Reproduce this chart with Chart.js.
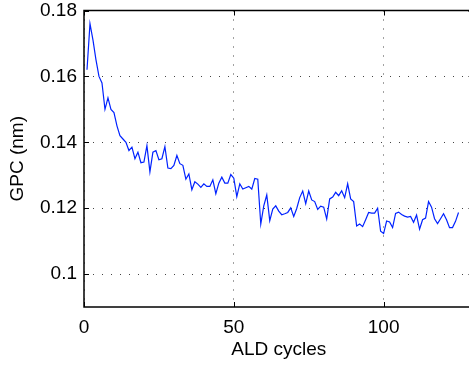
<!DOCTYPE html>
<html>
<head>
<meta charset="utf-8">
<script src="https://cdn.jsdelivr.net/npm/chart.js@4/dist/chart.umd.min.js"></script>
<style>
html,body{margin:0;padding:0;background:#fff;overflow:hidden;width:469px;height:365px;}
canvas{display:block;}
</style>
</head>
<body>
<canvas id="c" width="480" height="365"></canvas>
<script>
// ALD cycle number 1..125
const cycles = [
  1,2,3,4,5,6,7,8,9,10,11,12,13,14,15,16,17,18,19,20,
  21,22,23,24,25,26,27,28,29,30,31,32,33,34,35,36,37,38,39,40,
  41,42,43,44,45,46,47,48,49,50,51,52,53,54,55,56,57,58,59,60,
  61,62,63,64,65,66,67,68,69,70,71,72,73,74,75,76,77,78,79,80,
  81,82,83,84,85,86,87,88,89,90,91,92,93,94,95,96,97,98,99,100,
  101,102,103,104,105,106,107,108,109,110,111,112,113,114,115,116,117,118,119,120,
  121,122,123,124,125
];
// growth per cycle (nm)
const gpc = [
  0.162,0.176,0.171,0.165,0.160,0.158,0.150,0.1535,0.150,0.149,
  0.145,0.142,0.141,0.140,0.1375,0.1385,0.135,0.137,0.1338,0.134,
  0.139,0.131,0.137,0.1375,0.1347,0.135,0.1387,0.1322,0.132,0.133,
  0.136,0.1335,0.133,0.1288,0.1304,0.1256,0.128,0.1273,0.1263,0.1274,
  0.1266,0.1266,0.1286,0.1244,0.1276,0.1294,0.1276,0.1276,0.1302,0.1291,
  0.1235,0.1274,0.1258,0.1262,0.1266,0.1258,0.129,0.1288,0.1152,0.1207,
  0.124,0.1162,0.1197,0.1207,0.1191,0.118,0.1183,0.1187,0.1201,0.1175,
  0.1199,0.1232,0.1252,0.1214,0.1252,0.1225,0.122,0.1196,0.1206,0.1203,
  0.1167,0.1228,0.1234,0.1248,0.1238,0.1253,0.1232,0.1274,0.1228,0.122,
  0.1146,0.1152,0.1144,0.1165,0.1187,0.1185,0.1185,0.12,0.113,0.1123,
  0.1161,0.1158,0.1141,0.1184,0.1188,0.1181,0.1176,0.1173,0.1175,0.1157,
  0.1179,0.1136,0.1165,0.117,0.122,0.1203,0.1168,0.1153,0.1168,0.1183,
  0.1165,0.1141,0.1141,0.116,0.1187
];
const xTicks = [0, 50, 100];
const xTickLabels = ['0', '50', '100'];
const yTicks = [0.1, 0.12, 0.14, 0.16, 0.18];
const yTickLabels = ['0.1', '0.12', '0.14', '0.16', '0.18'];
const xTitle = 'ALD cycles';
const yTitle = 'GPC (nm)';

const FONT = "'Liberation Sans', Arial, Helvetica, sans-serif";

const frame = {
  id: 'frame',
  afterDraw(chart) {
    const {ctx, chartArea: a, scales: {x, y}} = chart;
    ctx.save();
    ctx.strokeStyle = '#000';
    ctx.lineWidth = 1;
    ctx.beginPath();
    x.ticks.forEach(t => {
      const px = Math.round(x.getPixelForValue(t.value)) + 0.5;
      ctx.moveTo(px, a.bottom); ctx.lineTo(px, a.bottom - 5);
      ctx.moveTo(px, a.top); ctx.lineTo(px, a.top + 5);
    });
    y.ticks.forEach(t => {
      const py = Math.round(y.getPixelForValue(t.value)) + 0.5;
      ctx.moveTo(a.left, py); ctx.lineTo(a.left + 5, py);
      ctx.moveTo(a.right, py); ctx.lineTo(a.right - 5, py);
    });
    ctx.stroke();
    ctx.lineWidth = 1.5;
    ctx.strokeRect(a.left, a.top, a.right - a.left, a.bottom - a.top);
    ctx.restore();
  }
};

new Chart(document.getElementById('c'), {
  type: 'line',
  data: {
    datasets: [{
      data: cycles.map((c, i) => ({x: c, y: gpc[i]})),
      borderColor: '#0022ff',
      borderWidth: 1.2,
      pointRadius: 0,
      tension: 0,
      fill: false
    }]
  },
  options: {
    responsive: false,
    animation: false,
    events: [],
    layout: {padding: {left: 0, top: 10.5, right: 6.5, bottom: 0}},
    plugins: {legend: {display: false}, tooltip: {enabled: false}},
    scales: {
      x: {
        type: 'linear',
        min: 0, max: 130,
        afterBuildTicks: s => { s.ticks = xTicks.map(v => ({value: v})); },
        afterFit: s => { s.height = 58; s.paddingLeft = 0; s.paddingRight = 0; },
        ticks: {
          color: '#000',
          font: {family: FONT, size: 19},
          padding: 9,
          maxRotation: 0,
          callback: (v, i) => xTickLabels[i]
        },
        grid: {color: '#444', lineWidth: 1, drawTicks: false},
        border: {display: false, dash: [1, 8]},
        title: {
          display: true, text: xTitle, color: '#000',
          font: {family: FONT, size: 19}, padding: {top: 0, bottom: 4}
        }
      },
      y: {
        type: 'linear',
        min: 0.09, max: 0.18,
        afterBuildTicks: s => { s.ticks = yTicks.map(v => ({value: v})); },
        afterFit: s => { s.width = 84; s.paddingTop = 0; s.paddingBottom = 0; },
        ticks: {
          color: '#000',
          font: {family: FONT, size: 19},
          padding: 7,
          callback: (v, i) => yTickLabels[i]
        },
        grid: {color: '#444', lineWidth: 1, drawTicks: false},
        border: {display: false, dash: [1, 8]},
        title: {
          display: true, text: yTitle, color: '#000',
          font: {family: FONT, size: 19}, padding: {top: 6, bottom: 0}
        }
      }
    }
  },
  plugins: [frame]
});
</script>
</body>
</html>
